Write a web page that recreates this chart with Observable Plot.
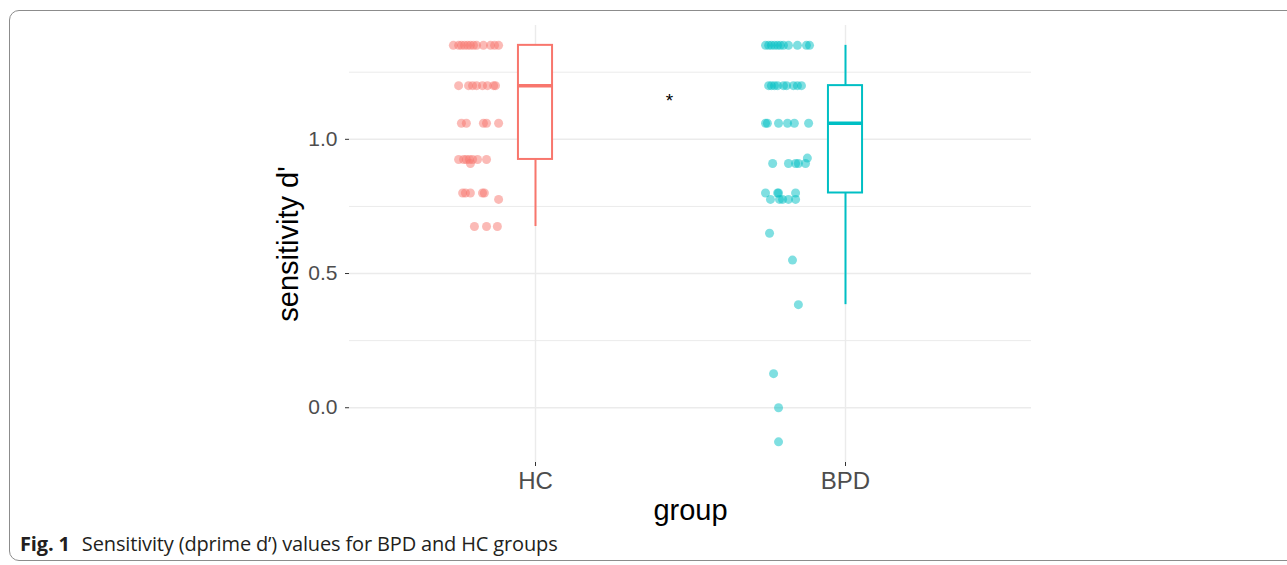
<!DOCTYPE html>
<html>
<head>
<meta charset="utf-8">
<script src="https://cdn.jsdelivr.net/npm/d3@7"></script>
<script src="https://cdn.jsdelivr.net/npm/@observablehq/plot@0.6"></script>
<style>
  html, body { margin: 0; padding: 0; background: #fff; width: 1287px; height: 565px; overflow: hidden; }
  #frame { position: absolute; left: 9px; top: 10px; width: 1295px; height: 551px; border: 1px solid #8c8c8c; border-radius: 10px; box-sizing: border-box; }
  #chart { position: absolute; left: 0; top: 0; }
  #caption { position: absolute; left: 20px; top: 530px; font-family: "Open Sans", sans-serif; font-size: 20px; color: #231f20; white-space: nowrap; letter-spacing: -0.15px; }
  #caption b { font-weight: 700; margin-right: 7px; }
</style>
</head>
<body>
<div id="frame"></div>
<div id="chart"></div>
<div id="caption"><b>Fig. 1</b> Sensitivity (dprime d’) values for BPD and HC groups</div>
<script>
// ---- data ----
const groups = ["HC", "BPD"];
const groupColors = ["#F8766D", "#00BFC4"];

// individual observations: sensitivity d' and horizontal jitter (in group units)
const hcValues = [
  1.35,1.35,1.35,1.35,1.35,1.35,1.35,1.35,1.35,1.35,1.35,1.35,
  1.20,1.20,1.20,1.20,1.20,1.20,1.20,1.20,
  1.06,1.06,1.06,1.06,1.06,
  0.925,0.925,0.925,0.925,0.925,0.925,0.925,0.91,
  0.80,0.80,0.80,0.80,0.80,0.776,
  0.675,0.675,0.675
];
const hcJitter = [
  -0.265,-0.248,-0.239,-0.229,-0.219,-0.210,-0.200,-0.190,-0.168,-0.145,-0.132,-0.119,
  -0.248,-0.216,-0.203,-0.190,-0.171,-0.155,-0.135,-0.129,
  -0.239,-0.223,-0.168,-0.158,-0.119,
  -0.248,-0.232,-0.223,-0.213,-0.203,-0.187,-0.158,-0.210,
  -0.235,-0.226,-0.210,-0.171,-0.165,-0.119,
  -0.197,-0.158,-0.123
];
const bpdValues = [
  1.35,1.35,1.35,1.35,1.35,1.35,1.35,1.35,1.35,1.35,1.35,
  1.20,1.20,1.20,1.20,1.20,1.20,1.20,1.20,1.20,
  1.06,1.06,1.06,1.06,1.06,1.06,
  0.91,0.91,0.91,0.91,0.91,0.93,
  0.80,0.80,0.80,0.80,0.776,0.776,0.776,0.776,0.776,
  0.65,0.55,0.384,0.127,0.0,-0.127
];
const bpdJitter = [
  -0.258,-0.248,-0.239,-0.229,-0.219,-0.210,-0.200,-0.184,-0.155,-0.126,-0.116,
  -0.248,-0.239,-0.229,-0.219,-0.200,-0.190,-0.168,-0.155,-0.142,
  -0.258,-0.252,-0.216,-0.187,-0.165,-0.119,
  -0.235,-0.184,-0.161,-0.152,-0.129,-0.123,
  -0.258,-0.219,-0.216,-0.161,-0.242,-0.213,-0.203,-0.184,-0.161,
  -0.245,-0.171,-0.152,-0.232,-0.216,-0.216
];

// box-plot summaries (per group)
const whiskerLow  = [0.675, 0.384];
const q1          = [0.925, 0.80];
const medians     = [1.20, 1.06];
const q3          = [1.35, 1.20];
const whiskerHigh = [1.35, 1.35];

const yTicks = [0, 0.5, 1.0];
const yMinor = [0.25, 0.75, 1.25];
const signif = [{group: 1.432, value: 1.15, label: "*"}];

// ---- build tables ----
const points = [
  ...hcValues.map((v, i) => ({g: 0, x: 1 + hcJitter[i], v})),
  ...bpdValues.map((v, i) => ({g: 1, x: 2 + bpdJitter[i], v}))
];
const boxes = groups.map((name, i) => ({
  name, g: i, x: i + 1, lo: whiskerLow[i], q1: q1[i], med: medians[i], q3: q3[i], hi: whiskerHigh[i]
}));
const halfW = 0.055;

const font = "'Liberation Sans', Arial, sans-serif";
const chart = Plot.plot({
  width: 1287,
  height: 530,
  marginLeft: 349,
  marginRight: 256,
  marginTop: 25,
  marginBottom: 68,
  style: {fontFamily: font, background: "transparent", overflow: "visible"},
  x: {domain: [0.4, 2.6], axis: null},
  y: {domain: [-0.204, 1.424], axis: null},
  color: {domain: [0, 1], range: groupColors},
  marks: [
    Plot.ruleY(yMinor, {stroke: "#EBEBEB", strokeWidth: 1}),
    Plot.ruleY(yTicks, {stroke: "#EBEBEB", strokeWidth: 1.4}),
    Plot.ruleX([1, 2], {stroke: "#EBEBEB", strokeWidth: 1.4}),
    Plot.axisY({ticks: yTicks, tickFormat: d3.format(".1f"), tickSize: 4, tickPadding: 8,
      fontSize: 21, color: "#4D4D4D", stroke: "#333", label: null}),
    Plot.axisX({ticks: [1, 2], tickFormat: d => groups[d - 1], tickSize: 4, tickPadding: 5,
      fontSize: 24, color: "#4D4D4D", stroke: "#333", label: null}),
    Plot.dot(points, {x: "x", y: "v", r: 4.5, fill: d => d.g, fillOpacity: 0.5, stroke: "none"}),
    Plot.ruleX(boxes, {x: "x", y1: "lo", y2: "q1", stroke: "g", strokeWidth: 2}),
    Plot.ruleX(boxes, {x: "x", y1: "q3", y2: "hi", stroke: "g", strokeWidth: 2}),
    Plot.rect(boxes, {x1: d => d.x - halfW, x2: d => d.x + halfW, y1: "q1", y2: "q3",
      fill: "white", stroke: "g", strokeWidth: 2}),
    Plot.ruleY(boxes, {x1: d => d.x - halfW, x2: d => d.x + halfW, y: "med", stroke: "g", strokeWidth: 3.5}),
    Plot.text(signif, {x: "group", y: "value", text: "label", fontSize: 19, fill: "black", dy: 2}),
    Plot.text(["sensitivity d'"], {frameAnchor: "left", dx: -61, rotate: -90, textAnchor: "middle",
      lineAnchor: "middle", fontSize: 29, fill: "black"}),
    Plot.text(["group"], {frameAnchor: "bottom", dy: 48, lineAnchor: "middle", fontSize: 29, fill: "black"})
  ]
});
document.getElementById("chart").appendChild(chart);
</script>
</body>
</html>
